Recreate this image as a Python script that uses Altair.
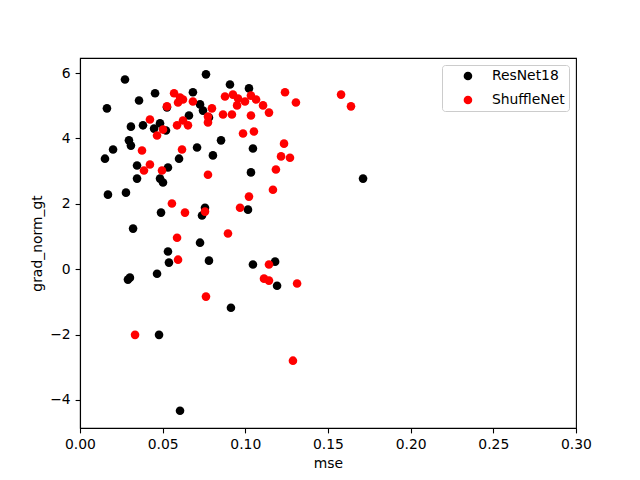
import altair as alt
import pandas as pd

resnet_mse = [0.0272, 0.0762, 0.0163, 0.0357, 0.0454, 0.0683, 0.0907, 0.1022, 0.0526, 0.0659,
              0.0726, 0.0744, 0.0780, 0.0308, 0.0381, 0.0448, 0.0484, 0.0520, 0.0296, 0.0308,
              0.0200, 0.0151, 0.0599, 0.0708, 0.0345, 0.0532, 0.0853, 0.0804, 0.1046, 0.1034,
              0.0345, 0.0484, 0.0502, 0.0169, 0.0278, 0.0490, 0.0321, 0.0756, 0.0738, 0.1016,
              0.0726, 0.0780, 0.1046, 0.1180, 0.1192, 0.0532, 0.0538, 0.0302, 0.0290, 0.0466,
              0.0913, 0.0478, 0.0605, 0.1712]
resnet_grad = [5.80, 5.96, 4.92, 5.16, 5.38, 5.41, 5.65, 5.53, 4.95, 4.70,
               5.04, 4.85, 4.64, 4.36, 4.40, 4.30, 4.46, 4.24, 3.94, 3.78,
               3.66, 3.38, 3.38, 3.72, 3.17, 3.11, 3.94, 3.48, 3.69, 2.96,
               2.77, 2.77, 2.65, 2.28, 2.34, 1.73, 1.24, 1.88, 1.64, 1.82,
               0.81, 0.26, 0.14, 0.23, -0.51, 0.54, 0.20, -0.26, -0.32, -0.14,
               -1.18, -2.01, -4.33, 2.77]

shuffle_mse = [0.0569, 0.0605, 0.0623, 0.0683, 0.0593, 0.0526, 0.0423, 0.0623, 0.0587, 0.0653,
               0.0502, 0.0466, 0.0375, 0.0617, 0.0423, 0.0387, 0.0496, 0.0877, 0.0925, 0.0956,
               0.0998, 0.1034, 0.1065, 0.0950, 0.1107, 0.1143, 0.1240, 0.1306, 0.0798, 0.0865,
               0.0919, 0.1034, 0.0774, 0.0774, 0.0986, 0.1052, 0.1234, 0.1216, 0.1270, 0.1185,
               0.0774, 0.0556, 0.0635, 0.0587, 0.0593, 0.1022, 0.1167, 0.0756, 0.0968, 0.0895,
               0.1143, 0.1113, 0.1143, 0.1313, 0.0762, 0.0333, 0.1288, 0.1579, 0.1639]
shuffle_grad = [5.38, 5.25, 5.19, 5.13, 5.10, 4.98, 4.58, 4.55, 4.40, 4.40,
                4.27, 4.09, 3.63, 3.66, 3.20, 3.02, 3.02, 5.28, 5.34, 5.22,
                5.13, 5.31, 5.19, 5.01, 5.01, 4.79, 5.41, 5.10, 4.92, 4.73,
                4.73, 4.70, 4.67, 4.49, 4.15, 4.21, 3.84, 3.45, 3.41, 3.05,
                2.89, 2.01, 1.73, 0.96, 0.29, 2.22, 2.43, 1.76, 1.88, 1.09,
                0.14, -0.29, -0.35, -0.44, -0.84, -2.01, -2.80, 5.34, 4.98]

series = ["ResNet18", "ShuffleNet"]
colors = ["black", "red"]
x_ticks = [0.0, 0.05, 0.10, 0.15, 0.20, 0.25, 0.30]
y_ticks = [-4, -2, 0, 2, 4, 6]

df = pd.concat([
    pd.DataFrame({"mse": resnet_mse, "grad_norm_gt": resnet_grad, "model": series[0]}),
    pd.DataFrame({"mse": shuffle_mse, "grad_norm_gt": shuffle_grad, "model": series[1]}),
], ignore_index=True)
df["order"] = range(len(df))

FONT = "DejaVu Sans"
FS = 13.9

chart = alt.Chart(df).mark_circle(size=74, opacity=1).encode(
    x=alt.X("mse:Q", title="mse",
            scale=alt.Scale(domain=[0, 0.30], nice=False, zero=False),
            axis=alt.Axis(values=x_ticks, format=".2f", labelFlush=False)),
    y=alt.Y("grad_norm_gt:Q", title="grad_norm_gt",
            scale=alt.Scale(domain=[-4.86, 6.46], nice=False, zero=False),
            axis=alt.Axis(values=y_ticks, format="d", labelFlush=False)),
    color=alt.Color("model:N", scale=alt.Scale(domain=series, range=colors),
                    legend=alt.Legend(title=None, orient="top-right", offset=7,
                                      strokeColor="#cccccc", fillColor="white",
                                      cornerRadius=3, padding=4, symbolOffset=15,
                                      labelOffset=17, rowPadding=9,
                                      symbolSize=74, symbolType="circle",
                                      labelFont=FONT, labelFontSize=FS,
                                      labelColor="black")),
    order="order:Q",
).properties(
    width=496, height=370,
    autosize=alt.AutoSizeParams(type="none"),
    padding={"left": 72, "top": 50, "right": 56, "bottom": 44},
).configure_view(
    stroke="black", strokeWidth=1.1
).configure_axis(
    grid=False, domainColor="black", domainWidth=1.1,
    tickColor="black", tickWidth=1.1, tickSize=4.9,
    labelFont=FONT, labelFontSize=FS, labelColor="black", labelPadding=4.9,
    titleFont=FONT, titleFontSize=FS, titleColor="black", titleFontWeight="normal",
    titlePadding=5,
)

chart.save("out.html", embed_options={"renderer": "svg", "actions": False})
